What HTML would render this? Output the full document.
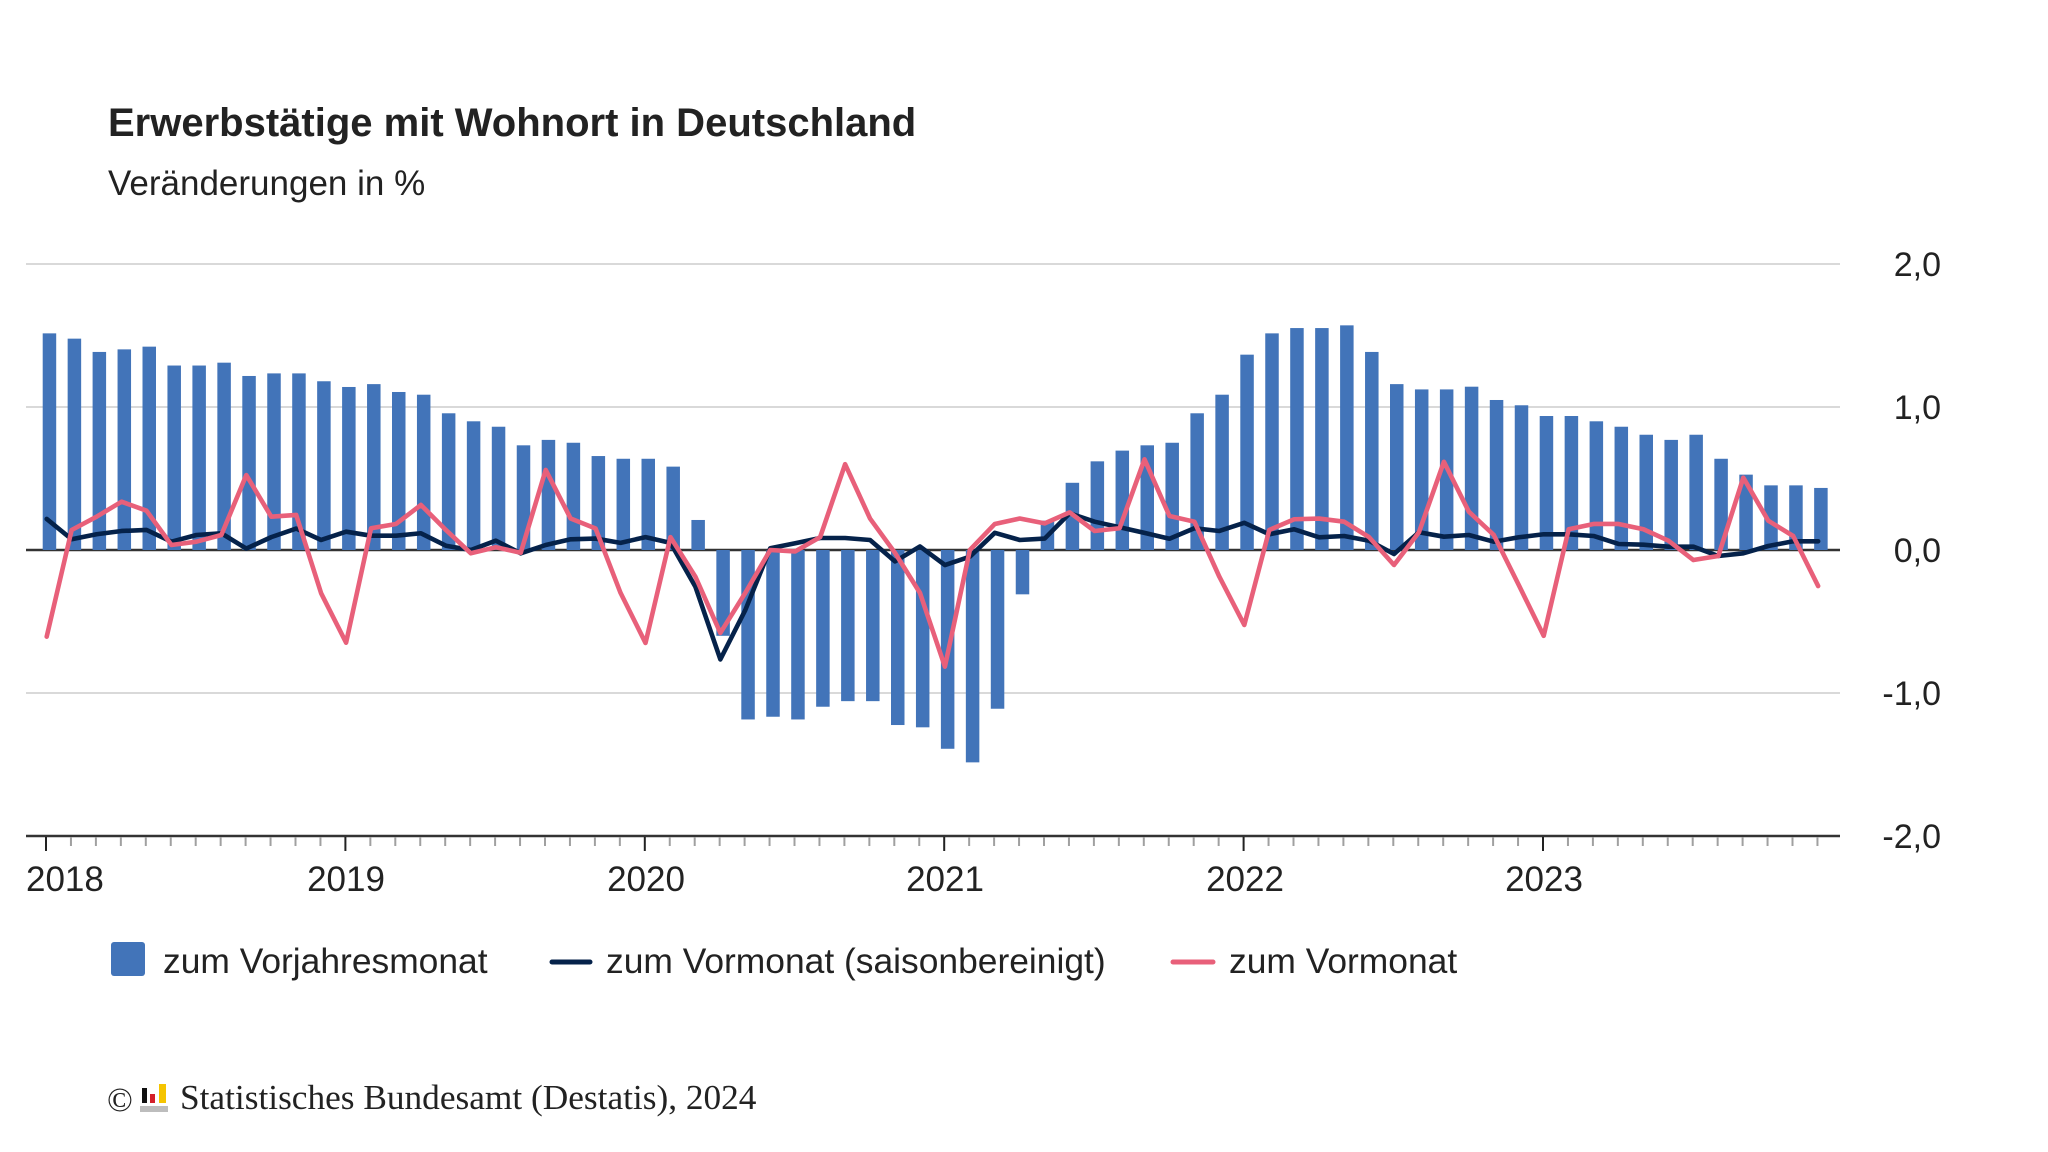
<!DOCTYPE html>
<html>
<head>
<meta charset="utf-8">
<style>
  html,body{margin:0;padding:0;background:#fff;}
  body{width:2048px;height:1152px;overflow:hidden;}
  svg{display:block;}
  .sans{font-family:"Liberation Sans",Arial,sans-serif;}
  .serif{font-family:"Liberation Serif","Times New Roman",serif;}
</style>
</head>
<body>
<svg id="chart" width="2048" height="1152" viewBox="0 0 2048 1152" xmlns="http://www.w3.org/2000/svg">
  <rect x="0" y="0" width="2048" height="1152" fill="#ffffff"/>
  <!-- Title -->
  <text x="108" y="136" class="sans" font-size="40" font-weight="bold" fill="#222">Erwerbstätige mit Wohnort in Deutschland</text>
  <text x="108" y="195" class="sans" font-size="35" fill="#222">Veränderungen in %</text>

  <!-- Gridlines -->
  <g stroke="#d9d9d9" stroke-width="2">
    <line x1="26" y1="264" x2="1840" y2="264"/>
    <line x1="26" y1="407" x2="1840" y2="407"/>
    <line x1="26" y1="693" x2="1840" y2="693"/>
  </g>
  <line x1="26" y1="550" x2="1840" y2="550" stroke="#333" stroke-width="2.5"/>

  <!-- Bars -->
  <g id="bars" fill="#4274b9"></g>

  <!-- Bottom axis -->
  <line x1="26" y1="836" x2="1840" y2="836" stroke="#333" stroke-width="2.5"/>
  <g id="ticks"></g>

  <!-- Lines -->
  <path id="darkline" fill="none" stroke="#05224a" stroke-width="4.6" stroke-linejoin="round" stroke-linecap="round"/>
  <path id="pinkline" fill="none" stroke="#e8607a" stroke-width="4.6" stroke-linejoin="round" stroke-linecap="round"/>

  <!-- Y labels -->
  <g class="sans" font-size="34" fill="#222" text-anchor="end">
    <text x="1941" y="276">2,0</text>
    <text x="1941" y="419">1,0</text>
    <text x="1941" y="562">0,0</text>
    <text x="1941" y="705">-1,0</text>
    <text x="1941" y="848">-2,0</text>
  </g>

  <!-- X labels -->
  <g class="sans" font-size="35" fill="#222">
    <text x="26" y="891">2018</text>
    <text x="346" y="891" text-anchor="middle">2019</text>
    <text x="646" y="891" text-anchor="middle">2020</text>
    <text x="945" y="891" text-anchor="middle">2021</text>
    <text x="1245" y="891" text-anchor="middle">2022</text>
    <text x="1544" y="891" text-anchor="middle">2023</text>
  </g>

  <!-- Legend -->
  <rect x="111" y="942" width="34" height="34" rx="3" ry="3" fill="#4274b9"/>
  <text x="163" y="973" class="sans" font-size="35.4" fill="#222">zum Vorjahresmonat</text>
  <line x1="552" y1="962" x2="590" y2="962" stroke="#05224a" stroke-width="5" stroke-linecap="round"/>
  <text x="606" y="973" class="sans" font-size="35.4" fill="#222">zum Vormonat (saisonbereinigt)</text>
  <line x1="1173" y1="962" x2="1213" y2="962" stroke="#e8607a" stroke-width="5" stroke-linecap="round"/>
  <text x="1229" y="973" class="sans" font-size="35.4" fill="#222">zum Vormonat</text>

  <!-- Copyright -->
  <text x="107" y="1111" class="serif" font-size="34" fill="#222">©</text>
  <rect x="140" y="1106" width="28" height="6" fill="#bdbdbd"/>
  <rect x="142" y="1088" width="5" height="15" fill="#111"/>
  <rect x="150" y="1094" width="5" height="9" fill="#d4202a"/>
  <rect x="159" y="1084" width="7" height="19" fill="#f5c400"/>
  <text x="180" y="1109" class="serif" font-size="35.3" fill="#222">Statistisches Bundesamt (Destatis), 2024</text>
</svg>

<script>
(function(){
  var bars=[1.515,1.478,1.385,1.403,1.422,1.29,1.29,1.31,1.217,1.235,1.235,1.18,
    1.14,1.16,1.105,1.086,0.956,0.90,0.862,0.732,0.77,0.75,0.657,0.638,
    0.638,0.583,0.21,-0.6,-1.185,-1.166,-1.185,-1.096,-1.057,-1.057,-1.224,-1.24,
    -1.39,-1.485,-1.11,-0.31,0.205,0.47,0.62,0.695,0.732,0.75,0.956,1.086,
    1.366,1.515,1.552,1.552,1.571,1.385,1.16,1.123,1.123,1.142,1.049,1.012,
    0.937,0.937,0.90,0.862,0.806,0.77,0.806,0.638,0.527,0.452,0.452,0.434];
  var dark=[0.217,0.075,0.11,0.133,0.14,0.058,0.105,0.117,0.01,0.09,0.15,0.07,
    0.128,0.10,0.10,0.117,0.03,0.0,0.065,-0.023,0.035,0.075,0.08,0.05,
    0.09,0.05,-0.257,-0.765,-0.42,0.012,0.047,0.084,0.084,0.07,-0.08,0.025,
    -0.105,-0.047,0.12,0.07,0.08,0.257,0.198,0.159,0.12,0.079,0.152,0.133,
    0.19,0.11,0.145,0.089,0.098,0.065,-0.028,0.124,0.093,0.105,0.058,0.089,
    0.11,0.11,0.098,0.042,0.037,0.023,0.023,-0.042,-0.023,0.028,0.061,0.061];
  var pink=[-0.606,0.14,0.233,0.338,0.275,0.035,0.058,0.105,0.524,0.233,0.245,-0.303,
    -0.648,0.152,0.182,0.315,0.14,-0.023,0.019,-0.019,0.56,0.22,0.15,-0.30,
    -0.65,0.09,-0.187,-0.58,-0.30,0.0,-0.01,0.09,0.60,0.22,-0.02,-0.30,
    -0.816,0.0,0.182,0.22,0.186,0.263,0.133,0.152,0.634,0.238,0.198,-0.187,
    -0.524,0.14,0.215,0.22,0.198,0.09,-0.105,0.124,0.617,0.268,0.105,-0.245,
    -0.60,0.145,0.182,0.182,0.145,0.065,-0.07,-0.042,0.506,0.205,0.098,-0.252];
  var NS="http://www.w3.org/2000/svg";
  function X(i){return 46.7+24.95*i;}
  function Y(v){return 550-143*v;}
  var gb=document.getElementById('bars');
  for(var i=0;i<bars.length;i++){
    var r=document.createElementNS(NS,'rect');
    var v=bars[i];
    var y0=Y(Math.max(v,0)), h=Math.abs(v)*143;
    r.setAttribute('x',(42.7+24.95*i).toFixed(2));
    r.setAttribute('y',y0.toFixed(2));
    r.setAttribute('width','13.5');
    r.setAttribute('height',h.toFixed(2));
    gb.appendChild(r);
  }
  var gt=document.getElementById('ticks');
  for(var i=0;i<72;i++){
    var l=document.createElementNS(NS,'line');
    var x=X(i)-0.7;
    var major=(i%12===0);
    l.setAttribute('x1',x.toFixed(2));l.setAttribute('x2',x.toFixed(2));
    l.setAttribute('y1','837');l.setAttribute('y2',major?'851':'846');
    l.setAttribute('stroke',major?'#222':'#a0a0a0');
    l.setAttribute('stroke-width','2');
    gt.appendChild(l);
  }
  function path(arr){
    var d='';
    for(var i=0;i<arr.length;i++){
      d+=(i?'L':'M')+X(i).toFixed(2)+','+Y(arr[i]).toFixed(2);
    }
    return d;
  }
  document.getElementById('darkline').setAttribute('d',path(dark));
  document.getElementById('pinkline').setAttribute('d',path(pink));
})();
</script>
</body>
</html>
